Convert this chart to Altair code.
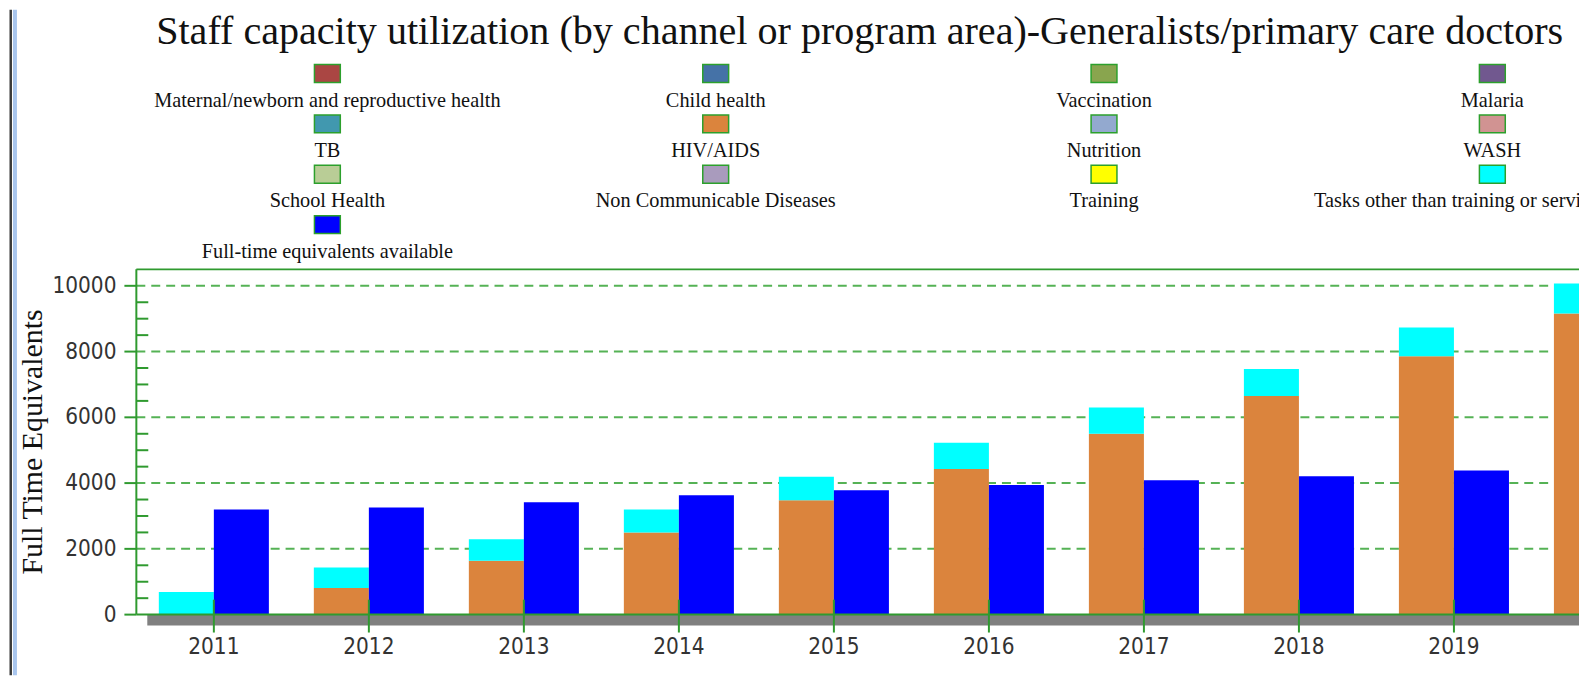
import altair as alt
import pandas as pd

# ---------------- data ----------------
years = ["2011", "2012", "2013", "2014", "2015", "2016", "2017", "2018", "2019", "2020"]
hiv_aids = [0, 810, 1640, 2500, 3480, 4430, 5500, 6650, 7860, 9160]
tasks_other = [690, 620, 650, 700, 710, 800, 800, 820, 870, 910]
fte_available = [3200, 3260, 3420, 3630, 3780, 3940, 4090, 4210, 4380, 4530]
visible_year_labels = ["2011", "2012", "2013", "2014", "2015", "2016", "2017", "2018", "2019"]

legend_names = [
    "Maternal/newborn and reproductive health", "Child health", "Vaccination", "Malaria",
    "TB", "HIV/AIDS", "Nutrition", "WASH",
    "School Health", "Non Communicable Diseases", "Training",
    "Tasks other than training or service delivery",
    "Full-time equivalents available",
]
legend_colors = [
    "#AA4643", "#4572A7", "#89A54E", "#71588F",
    "#4198AF", "#DB843D", "#93A9CF", "#D19392",
    "#B9CD96", "#A99BBD", "#FFFF00", "#00FFFF",
    "#0000FF",
]

title_text = "Staff capacity utilization (by channel or program area)-Generalists/primary care doctors"
y_title = "Full Time Equivalents"
y_major = [0, 2000, 4000, 6000, 8000, 10000]
y_minor = [500, 1000, 1500, 2500, 3000, 3500, 4500, 5000, 5500, 6500, 7000, 7500, 8500, 9000, 9500]
groups = ["used", "avail"]

# ---------------- layout / style ----------------
PW, PH = 1450, 347
XRANGE = [0, 1558]
GREEN = "#2f9a2f"
GRID = "#55b255"
SERIF = "Liberation Serif"
SANS = "'Liberation Sans Narrow', 'DejaVu Sans Condensed', 'Liberation Sans'"
LABEL_SIZE = 22.5

rows = []
for i, yr in enumerate(years):
    rows.append({"year": yr, "grp": "used", "cat": legend_names[5], "value": hiv_aids[i], "ord": 0})
    rows.append({"year": yr, "grp": "used", "cat": legend_names[11], "value": tasks_other[i], "ord": 1})
    rows.append({"year": yr, "grp": "avail", "cat": legend_names[12], "value": fte_available[i], "ord": 2})
bars_df = pd.DataFrame(rows)

leg_df = pd.DataFrame({"name": legend_names, "hex": legend_colors, "idx": list(range(len(legend_names)))})
years_df = pd.DataFrame({"year": years})
labels_df = pd.DataFrame({"year": visible_year_labels})
major_df = pd.DataFrame({"v": y_major})
minor_df = pd.DataFrame({"v": y_minor})
one = pd.DataFrame({"d": [0]})

xscale = alt.Scale(domain=years, range=XRANGE, paddingInner=0.29, paddingOuter=0.145)
yscale = alt.Scale(domain=[0, 10500], nice=False, zero=True)

X_YEAR = alt.X("year:N", scale=xscale, axis=None)
Y_V = alt.Y("v:Q", scale=yscale, axis=None)

# gridlines (behind bars)
grid = alt.Chart(major_df).transform_filter("datum.v > 0").mark_rule(
    color=GRID, strokeWidth=2, strokeDash=[9, 6]
).encode(y=Y_V, x=alt.value(0), x2=alt.value(PW))

bars = alt.Chart(bars_df).transform_stack(
    stack="value", groupby=["year", "grp"], as_=["v0", "v1"],
    sort=[alt.SortField("ord", order="ascending")]
).mark_bar().encode(
    x=X_YEAR,
    xOffset=alt.XOffset("grp:N", scale=alt.Scale(domain=groups, paddingInner=0, paddingOuter=0)),
    y=alt.Y("v0:Q", scale=yscale, axis=None),
    y2="v1:Q",
    color=alt.Color("cat:N", scale=alt.Scale(domain=legend_names, range=legend_colors), legend=None),
)

floor = alt.Chart(one).mark_rect(color="#808080").encode(
    x=alt.value(11), x2=alt.value(PW), y=alt.value(PH), y2=alt.value(PH + 11))

frame_top = alt.Chart(one).mark_rule(color=GREEN, strokeWidth=2).encode(
    x=alt.value(0), x2=alt.value(PW), y=alt.value(0))
frame_bottom = alt.Chart(one).mark_rule(color=GREEN, strokeWidth=2).encode(
    x=alt.value(0), x2=alt.value(PW), y=alt.value(PH))
frame_left = alt.Chart(one).mark_rule(color=GREEN, strokeWidth=2).encode(
    x=alt.value(0), y=alt.value(0), y2=alt.value(PH))

# x axis: ticks crossing the baseline + year labels
xticks = alt.Chart(years_df).mark_rule(color=GREEN, strokeWidth=2).encode(
    x=X_YEAR, y=alt.value(PH - 15), y2=alt.value(PH + 18))
xlabels = alt.Chart(labels_df).mark_text(
    font=SANS, fontSize=LABEL_SIZE, color="#333333", align="center", baseline="alphabetic"
).encode(x=X_YEAR, y=alt.value(PH + 40), text="year:N")

# y axis: outward major ticks, inward minor ticks, labels, title
ymajor = alt.Chart(major_df).mark_rule(color=GREEN, strokeWidth=2).encode(
    y=Y_V, x=alt.value(-12), x2=alt.value(0))
yminor = alt.Chart(minor_df).mark_rule(color=GREEN, strokeWidth=2).encode(
    y=Y_V, x=alt.value(0), x2=alt.value(12))
ylabels = alt.Chart(major_df).mark_text(
    font=SANS, fontSize=LABEL_SIZE, color="#333333", align="right", baseline="middle"
).encode(y=Y_V, x=alt.value(-20), text=alt.Text("v:Q", format="d"))
ytitle = alt.Chart(pd.DataFrame({"t": [y_title]})).mark_text(
    font=SERIF, fontSize=30, color="#111111", align="center", baseline="middle", angle=270
).encode(x=alt.value(-104), y=alt.value(PH / 2), text="t:N")

# legend (4 columns, swatch above centred label)
leg_base = alt.Chart(leg_df).transform_calculate(
    col="datum.idx % 4", row="floor(datum.idx / 4)"
).transform_calculate(
    cx="datum.col * 390.3 + 192", cy="datum.row * 50.6 - 196.8", ty="datum.row * 50.6 - 163.6"
).transform_calculate(
    x0="datum.cx - 13", x1="datum.cx + 13", y0="datum.cy - 9", y1="datum.cy + 9"
)
leg_rect = leg_base.mark_rect(stroke="#2ca02c", strokeWidth=1.5).encode(
    x=alt.X("x0:Q", scale=None, axis=None), x2="x1:Q",
    y=alt.Y("y0:Q", scale=None, axis=None), y2="y1:Q",
    color=alt.Color("hex:N", scale=None, legend=None))
leg_text = leg_base.mark_text(font=SERIF, fontSize=20.4, align="center", baseline="alphabetic",
                              color="#111111").encode(
    x=alt.X("cx:Q", scale=None, axis=None),
    y=alt.Y("ty:Q", scale=None, axis=None),
    text="name:N")

title = alt.Chart(pd.DataFrame({"t": [title_text]})).mark_text(
    font=SERIF, fontSize=40.3, align="center", baseline="alphabetic", color="#111111"
).encode(x=alt.value(727), y=alt.value(-227), text="t:N")

border_dark = alt.Chart(one).mark_rect(color="#3a3a3a").encode(
    x=alt.value(-127.5), x2=alt.value(-125), y=alt.value(-261), y2=alt.value(408))
border_blue = alt.Chart(one).mark_rect(color="#a9c6ee").encode(
    x=alt.value(-124), x2=alt.value(-120), y=alt.value(-261), y2=alt.value(408))

chart = alt.layer(
    border_dark, border_blue, title, leg_rect, leg_text,
    grid, floor, bars, frame_top, frame_bottom, frame_left,
    xticks, xlabels, ymajor, yminor, ylabels, ytitle
).properties(
    width=PW, height=PH,
    autosize=alt.AutoSizeParams(type="none"),
    padding={"left": 129, "top": 261, "right": 0, "bottom": 61},
).configure_view(stroke=None)

chart.save("out.html", embed_options={"renderer": "svg", "actions": False})
